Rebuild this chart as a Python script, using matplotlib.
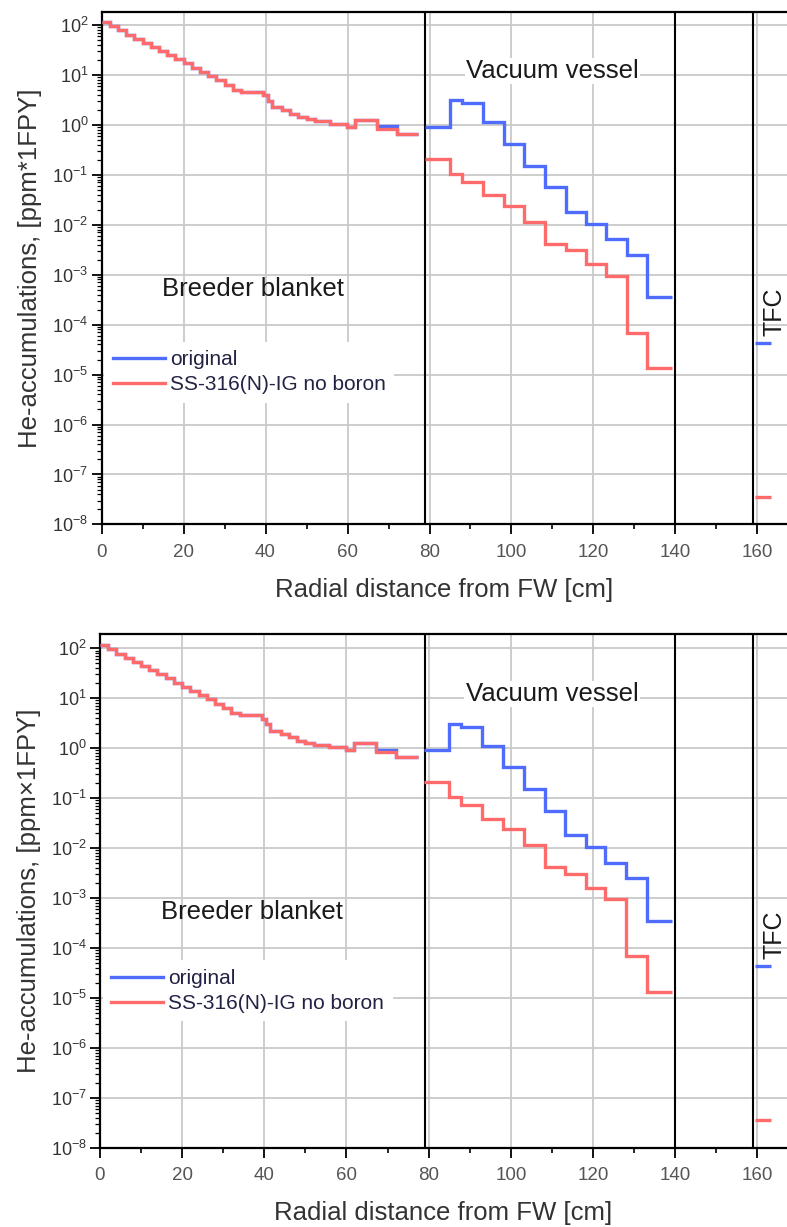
import numpy as np
import matplotlib
matplotlib.use("Agg")
import matplotlib.pyplot as plt
from matplotlib.ticker import LogLocator, NullFormatter, MultipleLocator

plt.rcParams["font.family"] = ["Liberation Sans", "DejaVu Sans"]
plt.rcParams["mathtext.fontset"] = "custom"
plt.rcParams["mathtext.rm"] = "Liberation Sans"

# breeder blanket bins [cm] and He accumulation [ppm per FPY]
blanket_edges = [0, 2, 4, 6, 8, 10, 12, 14, 16, 18, 20, 22, 24, 26, 28, 30, 32, 34,
                 39.5, 40.5, 41.5, 44, 46, 48, 50, 52, 55.7, 59.8, 61.8, 67.1, 72, 77.3]
blanket_orig = [115, 95, 78, 64, 53, 44, 36, 30, 25, 20.5, 17, 14, 11.5, 9.5, 7.8, 6.4, 5.0,
                4.6, 3.9, 3.0, 2.25, 1.94, 1.66, 1.42, 1.28, 1.17, 1.05, 0.90, 1.26, 0.93, 0.66]
blanket_ss = [115, 95, 78, 64, 53, 44, 36, 30, 25, 20.5, 17, 14, 11.5, 9.5, 7.8, 6.4, 5.0,
              4.6, 3.9, 3.0, 2.25, 1.94, 1.66, 1.42, 1.28, 1.17, 1.05, 0.90, 1.26, 0.83, 0.66]

# vacuum vessel
vv_edges = [78.9, 85, 87.9, 93, 98.2, 103.1, 108.2, 113.2, 118.2, 123, 128.1, 133.1, 139.2]
vv_orig = [0.90, 3.07, 2.71, 1.13, 0.417, 0.149, 0.056, 0.018, 0.0105, 0.0051, 0.0025, 3.5e-4]
vv_ss = [0.21, 0.105, 0.072, 0.039, 0.024, 0.0113, 0.0042, 0.0031, 0.0016, 9.6e-4, 6.9e-5, 1.35e-5]

# toroidal field coil
tfc_edges = [159.4, 163.3]
tfc_orig = [4.3e-5]
tfc_ss = [3.6e-8]

boundaries = [79, 140, 159]

BLUE = "#4f6cff"
RED = "#ff6b6b"


def draw_panel(ax, ylabel, ytop, leg_y):
    ax.set_yscale("log")
    for edges, vo, vs in [(blanket_edges, blanket_orig, blanket_ss),
                          (vv_edges, vv_orig, vv_ss),
                          (tfc_edges, tfc_orig, tfc_ss)]:
        ax.stairs(vo, edges, baseline=None, color=BLUE, lw=2.4, zorder=3)
        ax.stairs(vs, edges, baseline=None, color=RED, lw=2.4, zorder=4)
    # legend handles
    ax.plot([], [], color=BLUE, lw=2.4, label="original")
    ax.plot([], [], color=RED, lw=2.4, label="SS-316(N)-IG no boron")

    for b in boundaries:
        ax.axvline(b, color="black", lw=1.5, zorder=2)

    ax.set_xlim(0, 167.2)
    ax.set_ylim(1e-8, 10 ** ytop)
    ax.xaxis.set_major_locator(MultipleLocator(20))
    ax.xaxis.set_minor_locator(MultipleLocator(10))
    ax.yaxis.set_major_locator(LogLocator(base=10, numticks=20))
    ax.yaxis.set_minor_locator(LogLocator(base=10, subs=np.arange(2, 10), numticks=200))
    ax.yaxis.set_minor_formatter(NullFormatter())

    ax.grid(True, which="major", color="#c9c9c9", lw=1.3)
    ax.set_axisbelow(True)

    ax.spines["right"].set_visible(False)
    for s in ["left", "bottom", "top"]:
        ax.spines[s].set_color("black")
        ax.spines[s].set_linewidth(1.6)

    ax.tick_params(axis="x", which="major", direction="out", length=7.5, width=1.3,
                   pad=6.5, labelsize=13.5, labelcolor="#555555")
    ax.tick_params(axis="x", which="minor", direction="out", length=3.6, width=1.2)
    ax.tick_params(axis="y", which="major", direction="out", length=7, width=1.3,
                   pad=2.5, labelsize=13, labelcolor="#333333")
    ax.tick_params(axis="y", which="minor", direction="out", length=3.5, width=0.9)

    ax.set_xlabel("Radial distance from FW [cm]", fontsize=18.5, color="#333333", labelpad=12)
    ax.set_ylabel(ylabel, fontsize=18.5, color="#333333", labelpad=7)

    ax.text(37, 10 ** -3.28, "Breeder blanket", fontsize=18.5, ha="center", va="center",
            color="#1a1a1a", zorder=5)
    ax.text(110, 10 ** 1.08, "Vacuum vessel", fontsize=18.5, ha="center", va="center",
            color="#1a1a1a", zorder=5,
            bbox=dict(facecolor="white", edgecolor="none", pad=1))
    ax.text(164.2, 10 ** -3.74, "TFC", fontsize=18, ha="center", va="center",
            rotation=90, color="#1a1a1a", zorder=5)

    leg = ax.legend(loc="upper left", bbox_to_anchor=(0.004, leg_y), fontsize=15,
                    frameon=True, facecolor="white", edgecolor="none", framealpha=1,
                    handlelength=2.5, handletextpad=0.25, labelspacing=0.3,
                    borderaxespad=0, borderpad=0.4, fancybox=False)
    for t in leg.get_texts():
        t.set_color("#222244")
    leg.set_zorder(6)


fig = plt.figure(figsize=(7.87, 12.27), dpi=100)
ax1 = fig.add_axes([0.129, 0.5726, 0.871, 0.4173])
ax2 = fig.add_axes([0.127, 0.0644, 0.873, 0.4187])

draw_panel(ax1, "He-accumulations, [ppm*1FPY]", 2.25, 0.357)
draw_panel(ax2, "He-accumulations, [ppm\u00d71FPY]", 2.28, 0.365)

fig.savefig("out.png", dpi=100)
